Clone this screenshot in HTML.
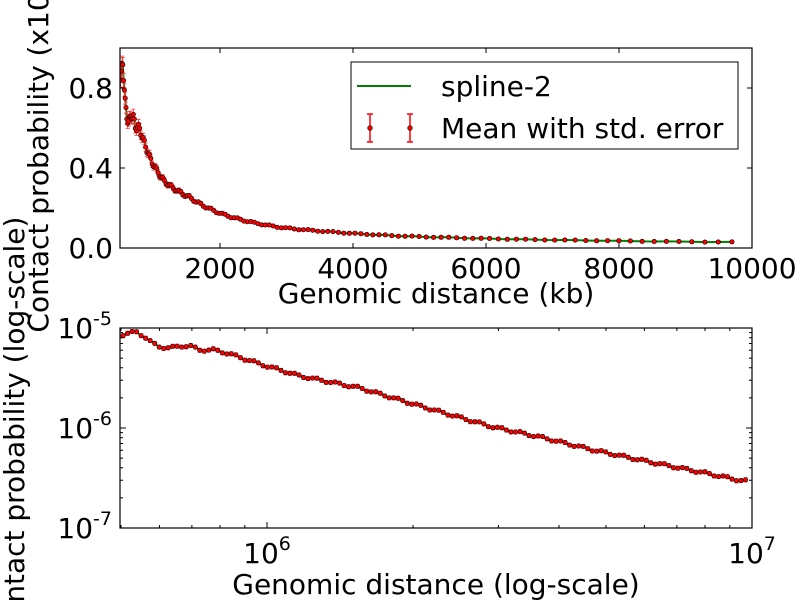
<!DOCTYPE html>
<html><head><meta charset="utf-8"><style>
html,body{margin:0;padding:0;background:#fff;width:800px;height:600px;overflow:hidden;}
svg{display:block;font-family:"DejaVu Sans","Liberation Sans",sans-serif;}
</style></head><body>
<svg id="s" width="800" height="600" xmlns="http://www.w3.org/2000/svg" overflow="hidden"></svg>
<script>
const s=document.getElementById('s');
let h='';
const cp=[[121,335],[130,333],[137,332],[145,337],[152,343],[160,347],[170,348],[180,346],[190,346],[200,350],[215,350],[230,354],[260,364],[300,376],[360,388],[420,406],[493,427],[540,437],[593,450],[650,462],[700,472],[743,481],[752,481]];
function interp(x){for(let i=0;i<cp.length-1;i++){if(x<=cp[i+1][0]){const t=(x-cp[i][0])/(cp[i+1][0]-cp[i][0]);return cp[i][1]+t*(cp[i+1][1]-cp[i][1]);}}return cp[cp.length-1][1];}
const L=120,R=752,dec=485;
function bx(kb){return 267+(Math.log10(kb*1000)-6)*dec;}
function tx(kb){return 220+(kb-2000)*0.0665;}
let pts=[];
for(let lx=Math.log10(5.05e5);lx<=Math.log10(9.85e6);lx+=0.0093){
  const kb=Math.pow(10,lx)/1000;const xb=bx(kb);
  let yb=interp(xb)+(Math.sin(xb*1.7)*1.2);
  const v=Math.pow(10,-5-(yb-328)/100)/1e-5;
  pts.push({xb,yb,xt:tx(kb),yt:248-v*200,v});
}
h+='<defs><clipPath id="c1"><rect x="120" y="48" width="632" height="200"/></clipPath><clipPath id="c2"><rect x="120" y="328" width="632" height="200"/></clipPath></defs>';
function series(xk,yk,clip,top){
  let g='<g clip-path="url(#'+clip+')">';
  g+='<polyline fill="none" stroke="#008000" stroke-width="2" points="'+pts.map(p=>p[xk].toFixed(1)+','+p[yk].toFixed(1)).join(' ')+'"/>';
  pts.forEach(p=>{const e=top?Math.max(1.5,p.v*8):2;
    g+='<path d="M'+p[xk].toFixed(1)+' '+(p[yk]-e).toFixed(1)+'V'+(p[yk]+e).toFixed(1)+'M'+(p[xk]-2).toFixed(1)+' '+(p[yk]-e).toFixed(1)+'h4M'+(p[xk]-2).toFixed(1)+' '+(p[yk]+e).toFixed(1)+'h4" stroke="#ff3030" stroke-width="0.8" fill="none"/>';});
  pts.forEach(p=>{g+='<circle cx="'+p[xk].toFixed(1)+'" cy="'+p[yk].toFixed(1)+'" r="2.2" fill="#ff0000" stroke="#000" stroke-width="0.6"/>';});
  return g+'</g>';
}
h+=series('xt','yt','c1',true);
h+=series('xb','yb','c2',false);
h+='<rect x="120" y="48" width="632" height="200" fill="none" stroke="#000" stroke-width="1.2"/>';
h+='<rect x="120" y="328" width="632" height="200" fill="none" stroke="#000" stroke-width="1.2"/>';
let t='';
[2000,4000,6000,8000].forEach(v=>{const x=tx(v);t+='M'+x+' 248v-5M'+x+' 48v5';});
[0,0.4,0.8].forEach(v=>{const y=248-v*200;t+='M120 '+y+'h5M752 '+y+'h-5';});
[6,7].forEach(e=>{const x=267+(e-6)*dec;t+='M'+x+' 528v-6M'+x+' 328v6';});
[328,428,528].forEach(y=>{t+='M120 '+y+'h6M752 '+y+'h-6';});
for(let e=5;e<=6;e++)for(let m=2;m<=9;m++){const x=267+(e+Math.log10(m)-6)*dec;if(x>L&&x<R)t+='M'+x.toFixed(1)+' 528v-3M'+x.toFixed(1)+' 328v3';}
for(let d=0;d<2;d++)for(let m=2;m<=9;m++){const y=528-(d+Math.log10(m))*100;t+='M120 '+y.toFixed(1)+'h3M752 '+y.toFixed(1)+'h-3';}
h+='<path d="'+t+'" stroke="#000" stroke-width="1" fill="none"/>';
const F='font-size="28" fill="#000"';
const SF='font-size="19"';
h+='<g '+F+' text-anchor="middle">';
[[2000,'2000'],[4000,'4000'],[6000,'6000'],[8000,'8000'],[10000,'10000']].forEach(a=>{h+='<text x="'+tx(a[0])+'" y="278">'+a[1]+'</text>';});
h+='</g><g '+F+' text-anchor="end">';
[[0,'0.0'],[0.4,'0.4'],[0.8,'0.8']].forEach(a=>{h+='<text x="113" y="'+(248-a[0]*200+10)+'">'+a[1]+'</text>';});
h+='</g>';
h+='<text x="267" y="563" '+F+' text-anchor="middle">10<tspan '+SF+' dy="-13">6</tspan></text>';
h+='<text x="752" y="563" '+F+' text-anchor="middle">10<tspan '+SF+' dy="-13">7</tspan></text>';
[[-5,328],[-6,428],[-7,528]].forEach(a=>{h+='<text x="112" y="'+(a[1]+10)+'" '+F+' text-anchor="end">10<tspan '+SF+' dy="-13">'+a[0]+'</tspan></text>';});
h+='<text x="436" y="303" '+F+' text-anchor="middle">Genomic distance (kb)</text>';
h+='<text x="436" y="594" '+F+' text-anchor="middle">Genomic distance (log-scale)</text>';
h+='<text transform="translate(48,148) rotate(-90)" '+F+' text-anchor="middle">Contact probability (x10<tspan '+SF+' dy="-13">-5</tspan><tspan dy="13">)</tspan></text>';
h+='<text transform="translate(24,428) rotate(-90)" '+F+' text-anchor="middle">Contact probability (log-scale)</text>';
h+='<rect x="351" y="62" width="387" height="87" fill="#fff" stroke="#000" stroke-width="1"/>';
h+='<line x1="357" y1="86" x2="411" y2="86" stroke="#008000" stroke-width="2"/>';
h+='<text x="441" y="96" '+F+'>spline-2</text>';
[370,410].forEach(x=>{h+='<path d="M'+x+' 114V142M'+(x-3)+' 114h6M'+(x-3)+' 142h6" stroke="#ff0000" stroke-width="1.5" fill="none"/><circle cx="'+x+'" cy="128" r="2.3" fill="#ff0000" stroke="#000" stroke-width="0.7"/>';});
h+='<text x="441" y="138" '+F+'>Mean with std. error</text>';
s.innerHTML=h;
</script>
</body></html>
